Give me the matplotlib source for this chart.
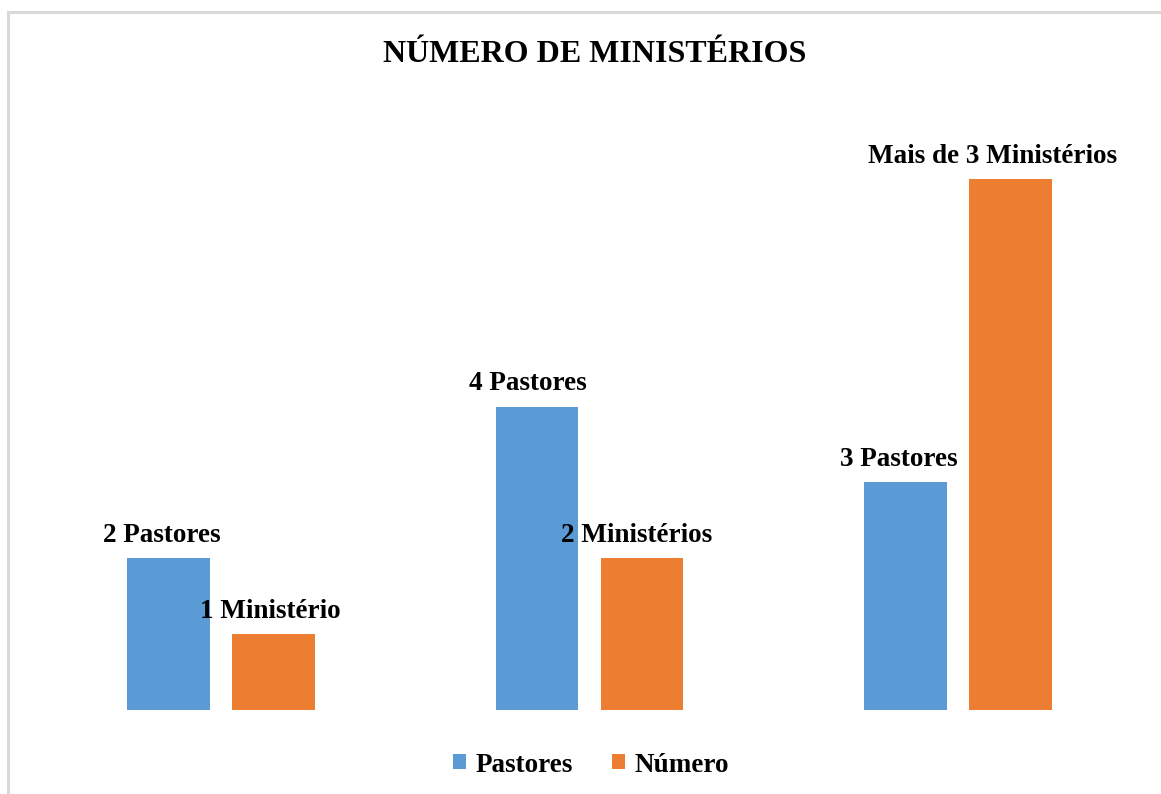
import matplotlib
matplotlib.use("Agg")
import matplotlib.pyplot as plt
import numpy as np
from matplotlib.patches import Rectangle

categories = ["Grupo 1", "Grupo 2", "Grupo 3"]
pastores = [2, 4, 3]
numero = [1, 2, 7]
pastores_labels = ["2 Pastores", "4 Pastores", "3 Pastores"]
numero_labels = ["1 Ministério", "2 Ministérios", "Mais de 3 Ministérios"]
series_names = ["Pastores", "Número"]
title = "NÚMERO DE MINISTÉRIOS"

blue = "#5B9BD5"
orange = "#ED7D31"

plt.rcParams['font.family'] = ['Liberation Serif', 'DejaVu Serif']

W, H = 1161, 794
fig = plt.figure(figsize=(W / 100, H / 100), dpi=100)

# chart border
fig.patches.append(Rectangle((7.5 / W, -0.1), 1.2, (H - 12.5) / H + 0.1,
                             transform=fig.transFigure, fill=False,
                             edgecolor="#D9D9D9", linewidth=2.2))

# axes in pixel coordinates
left, right = 37, 1142
top, bottom = 103, 710
ax = fig.add_axes([left / W, 1 - bottom / H, (right - left) / W, (bottom - top) / H])
ax.set_xlim(-0.5, 2.5)
ax.set_ylim(0, 8)
ax.axis("off")

x = np.arange(len(categories))
w = 0.225
off = 0.1425
b1 = ax.bar(x - off, pastores, w, color=blue, label=series_names[0])
b2 = ax.bar(x + off, numero, w, color=orange, label=series_names[1])

fs = 19.5
dx1 = [-7, -9, -7]
dx2 = [-3, -5, -18]
for i, r in enumerate(b1):
    ax.annotate(pastores_labels[i], (r.get_x() + r.get_width() / 2, r.get_height()),
                xytext=(dx1[i] * 0.72, 11.6), textcoords="offset points",
                ha="center", va="baseline", fontsize=fs, fontweight="bold")
for i, r in enumerate(b2):
    ax.annotate(numero_labels[i], (r.get_x() + r.get_width() / 2, r.get_height()),
                xytext=(dx2[i] * 0.72, 11.6), textcoords="offset points",
                ha="center", va="baseline", fontsize=fs, fontweight="bold")

fig.text(595 / W, 1 - 54 / H, title, ha="center", va="center",
         fontsize=23, fontweight="bold")

leg = fig.legend(handles=[b1, b2], labels=series_names, loc="center",
                 bbox_to_anchor=(591 / W, 1 - 765 / H), ncol=2, frameon=False,
                 prop={"size": fs, "weight": "bold"}, handlelength=0.48,
                 handleheight=0.48, handletextpad=0.35, columnspacing=1.45)

fig.savefig("out.png", dpi=100)
